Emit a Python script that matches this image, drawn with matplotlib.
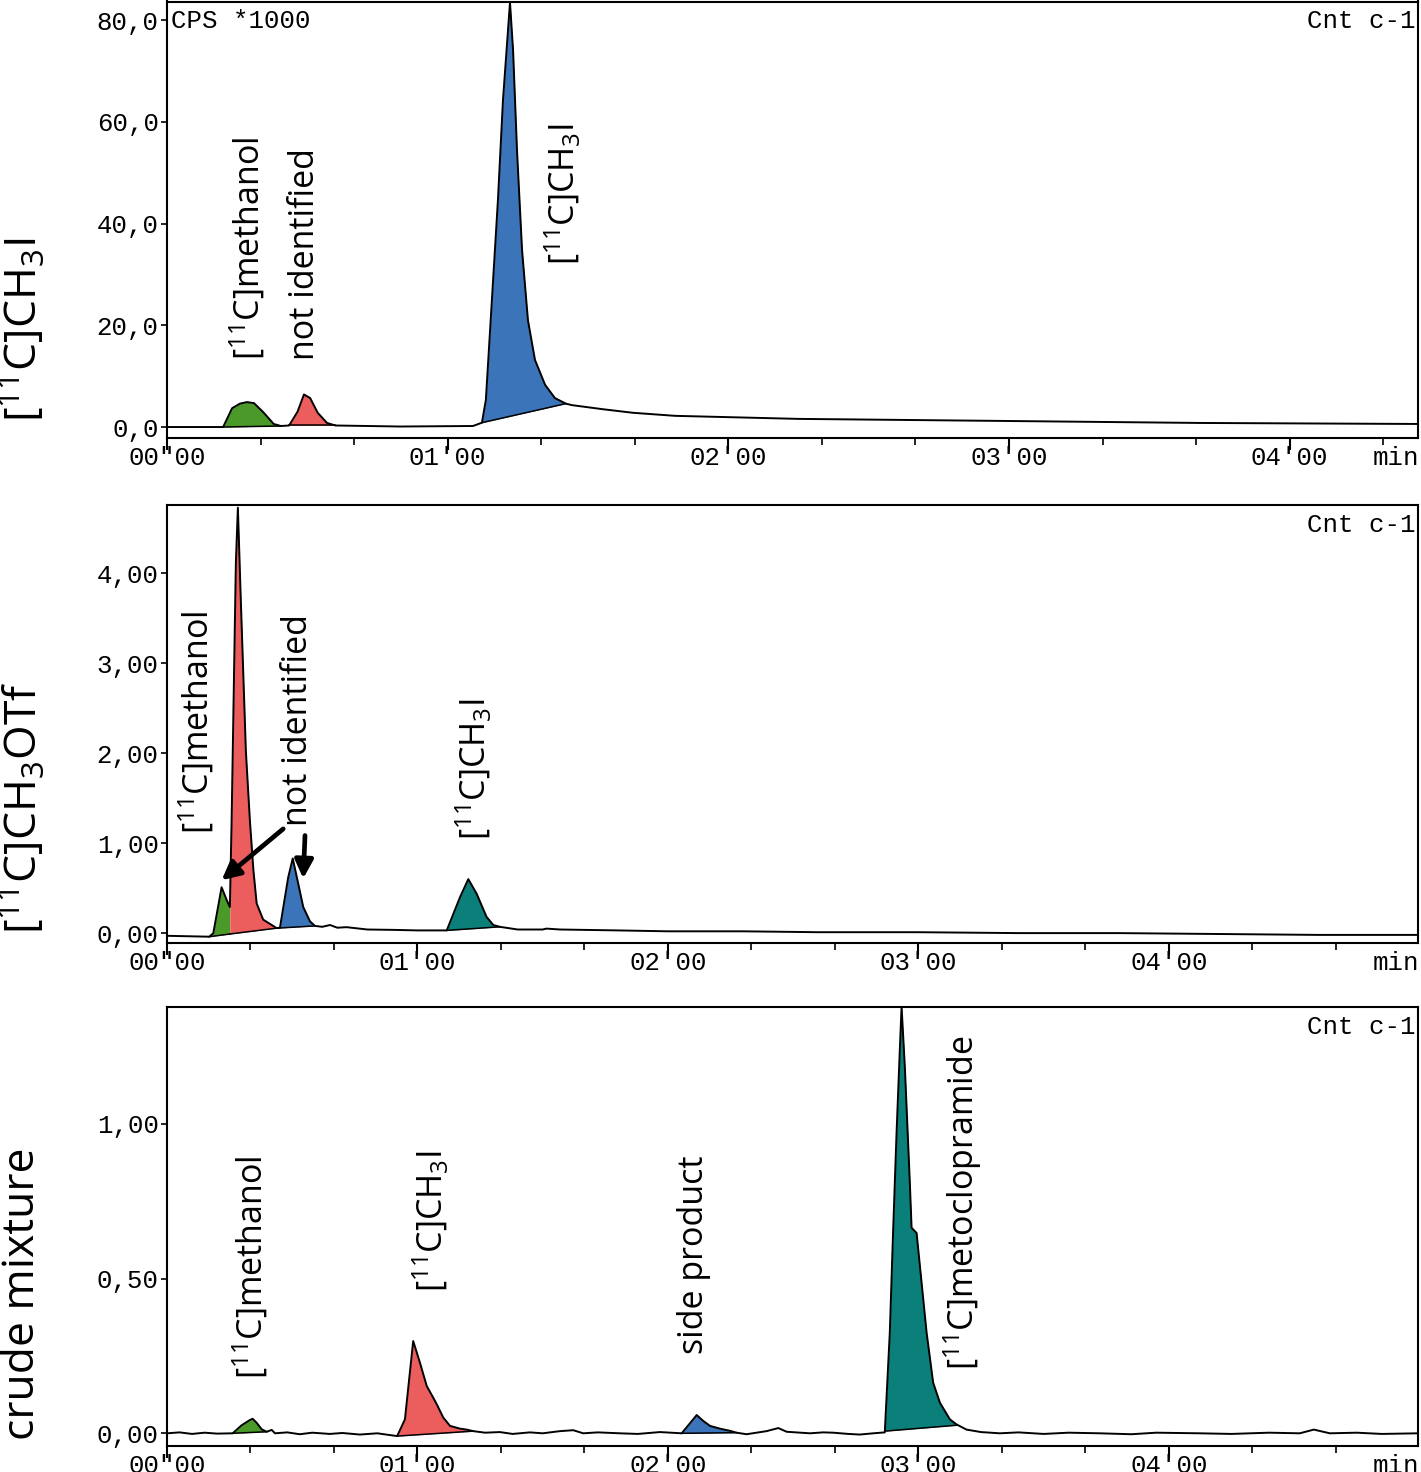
import numpy as np
import matplotlib
matplotlib.use("Agg")
import matplotlib.pyplot as plt
from matplotlib.ticker import FixedLocator, MultipleLocator

plt.rcParams['mathtext.fontset'] = 'custom'
plt.rcParams['mathtext.rm'] = 'Open Sans'
plt.rcParams['mathtext.it'] = 'Open Sans:italic'
plt.rcParams['mathtext.bf'] = 'Open Sans:bold'

# ---------------- data ----------------
# Panel 1: [11C]CH3I  (CPS*1000 vs time in min)
top_t = [0.00, 0.20, 0.232, 0.26, 0.285, 0.31, 0.345, 0.38, 0.406, 0.435,
         0.465, 0.488, 0.51, 0.537, 0.57, 0.60, 0.83, 1.09, 1.122, 1.136,
         1.179, 1.197, 1.222, 1.233, 1.247, 1.265, 1.286, 1.311, 1.347, 1.382,
         1.421, 1.443, 1.553, 1.66, 1.81, 2.25, 2.97, 3.68, 4.457]
top_v = [0.0, 0.0, 3.7, 4.6, 4.9, 4.7, 2.8, 0.6, 0.2, 0.3,
         3.0, 6.4, 5.7, 2.8, 0.8, 0.3, 0.1, 0.2, 0.85, 5.3,
         44.6, 64.3, 83.5, 74.1, 54.4, 34.8, 21.0, 13.2, 8.3, 5.7,
         4.6, 4.3, 3.5, 2.8, 2.2, 1.6, 1.2, 0.8, 0.6]
top_peak_start = [0.20, 0.435, 1.122]
top_peak_end = [0.406, 0.60, 1.421]
top_base_start = [0.0, 0.3, 0.85]
top_base_end = [0.2, 0.3, 4.6]
top_peak_colors = ['#4b9a29', '#ec5d5d', '#3b74b9']

# Panel 2: [11C]CH3OTf
mid_t = [0.0, 0.169, 0.185, 0.218, 0.238, 0.251, 0.258, 0.275, 0.283, 0.295,
         0.315, 0.331, 0.345, 0.358, 0.384, 0.424, 0.438, 0.451, 0.484, 0.502,
         0.524, 0.544, 0.571, 0.591, 0.62, 0.651, 0.68, 0.717, 0.80, 0.903,
         1.0, 1.117, 1.170, 1.203, 1.236, 1.276, 1.303, 1.329, 1.40, 1.50,
         1.515, 1.57, 1.8, 2.0, 2.3, 2.6, 3.0, 3.4, 3.8, 4.2,
         4.6, 4.995]
mid_v = [-0.03, -0.04, 0.0, 0.51, 0.37, 0.29, 1.25, 4.12, 4.73, 3.68,
         2.02, 1.25, 0.70, 0.33, 0.15, 0.08, 0.055, 0.06, 0.62, 0.83,
         0.55, 0.29, 0.13, 0.08, 0.07, 0.09, 0.06, 0.066, 0.04, 0.036,
         0.03, 0.03, 0.40, 0.60, 0.44, 0.18, 0.09, 0.07, 0.04, 0.04,
         0.05, 0.04, 0.03, 0.02, 0.02, 0.01, 0.01, 0.0, 0.0, -0.01,
         -0.02, -0.02]
mid_peak_start = [0.169, 0.251, 0.438, 1.117]
mid_peak_end = [0.251, 0.438, 0.591, 1.329]
mid_base_start = [-0.04, -0.01, 0.055, 0.03]
mid_base_end = [-0.01, 0.055, 0.08, 0.07]
mid_peak_colors = ['#4b9a29', '#ec5d5d', '#3b74b9', '#0b7f7a']

# Panel 3: crude mixture
bot_t = [0.0, 0.05, 0.10, 0.15, 0.20, 0.262, 0.298, 0.331, 0.342, 0.358,
         0.378, 0.398, 0.418, 0.431, 0.48, 0.53, 0.58, 0.65, 0.70, 0.77,
         0.84, 0.919, 0.950, 0.983, 1.010, 1.037, 1.063, 1.077, 1.103, 1.130,
         1.170, 1.196, 1.223, 1.27, 1.329, 1.38, 1.449, 1.50, 1.569, 1.622,
         1.662, 1.72, 1.808, 1.88, 1.968, 2.055, 2.115, 2.141, 2.168, 2.208,
         2.248, 2.274, 2.314, 2.394, 2.441, 2.474, 2.567, 2.62, 2.660, 2.72,
         2.766, 2.82, 2.866, 2.886, 2.899, 2.913, 2.926, 2.933, 2.946, 2.966,
         2.973, 2.993, 3.013, 3.033, 3.059, 3.086, 3.126, 3.152, 3.192, 3.25,
         3.325, 3.40, 3.50, 3.60, 3.725, 3.85, 3.95, 4.124, 4.25, 4.40,
         4.523, 4.579, 4.643, 4.75, 4.85, 4.994]
bot_v = [0.0, 0.003, -0.002, 0.002, -0.001, 0.0, 0.026, 0.043, 0.047, 0.034,
         0.013, 0.005, 0.011, 0.0, 0.003, -0.003, 0.002, -0.002, 0.001, -0.004,
         0.0, -0.009, 0.045, 0.298, 0.228, 0.153, 0.115, 0.094, 0.051, 0.024,
         0.015, 0.012, 0.007, 0.002, 0.004, -0.002, 0.003, 0.0, 0.007, 0.01,
         0.0, 0.003, 0.0, -0.002, 0.004, 0.0, 0.059, 0.04, 0.024, 0.015,
         0.008, 0.002, -0.003, 0.007, 0.017, 0.005, 0.0, 0.003, 0.002, -0.002,
         -0.004, 0.0, 0.003, 0.325, 0.647, 0.97, 1.239, 1.378, 1.185, 0.809,
         0.664, 0.647, 0.486, 0.325, 0.164, 0.099, 0.045, 0.029, 0.012, 0.004,
         0.0, 0.003, -0.002, 0.002, 0.0, -0.003, 0.002, 0.0, -0.002, 0.002,
         0.0, 0.012, 0.0, 0.002, -0.002, 0.0]
bot_peak_start = [0.262, 0.919, 2.055, 2.866]
bot_peak_end = [0.398, 1.223, 2.274, 3.152]
bot_base_start = [0.0, -0.009, 0.0, 0.007]
bot_base_end = [0.005, 0.007, 0.002, 0.026]
bot_peak_colors = ['#4b9a29', '#ec5d5d', '#3b74b9', '#0b7f7a']

# tick labels
x_ticks = [0, 1, 2, 3, 4]
x_ticklabels = ['00"00', "01'00", "02'00", "03'00", "04'00"]
top_yticks = [0, 20, 40, 60, 80]
top_yticklabels = ['0,0', '20,0', '40,0', '60,0', '80,0']
mid_yticks = [0, 1, 2, 3, 4]
mid_yticklabels = ['0,00', '1,00', '2,00', '3,00', '4,00']
bot_yticks = [0, 0.5, 1.0]
bot_yticklabels = ['0,00', '0,50', '1,00']

# panel side labels
panel_titles = [r'[$^{11}$C]CH$_3$I', r'[$^{11}$C]CH$_3$OTf', 'crude mixture']

# peak labels: (text, t, v)
top_labels = [(r'[$^{11}$C]methanol', 0.289, 13.2),
              ('not identified', 0.492, 13.2),
              (r'[$^{11}$C]CH$_3$I', 1.411, 31.8)]
mid_labels = [(r'[$^{11}$C]methanol', 0.12, 1.107),
              ('not identified', 0.523, 1.196),
              (r'[$^{11}$C]CH$_3$I', 1.226, 1.03)]
bot_labels = [(r'[$^{11}$C]methanol', 0.335, 0.174),
              (r'[$^{11}$C]CH$_3$I', 1.054, 0.458),
              ('side product', 2.104, 0.255),
              (r'[$^{11}$C]metoclopramide', 3.178, 0.206)]
# arrows in panel 2: (start t, start v, end t, end v)
mid_arrows = [(0.464, 1.159, 0.218, 0.588),
              (0.551, 1.085, 0.544, 0.607)]

# ---------------- figure ----------------
W, H = 1421, 1472
fig = plt.figure(figsize=(W / 100, H / 100), dpi=100)

mono = 'Liberation Mono'
sans = 'Open Sans'
MONO_SIZE = 18.5


def px_box(l, t, r, b):
    return [l / W, 1 - b / H, (r - l) / W, (b - t) / H]


panels = [
    dict(box=px_box(167, 1.5, 1418, 438), t=top_t, v=top_v, xlim=(0, 4.457), ylim=(-2.16, 83.7),
         ps=top_peak_start, pe=top_peak_end, bs=top_base_start, be=top_base_end, pc=top_peak_colors,
         yt=top_yticks, ytl=top_yticklabels, labels=top_labels, cps=True),
    dict(box=px_box(167, 505, 1418, 943), t=mid_t, v=mid_v, xlim=(0, 4.995), ylim=(-0.11, 4.76),
         ps=mid_peak_start, pe=mid_peak_end, bs=mid_base_start, be=mid_base_end, pc=mid_peak_colors,
         yt=mid_yticks, ytl=mid_yticklabels, labels=mid_labels, cps=False),
    dict(box=px_box(167, 1007, 1418, 1446), t=bot_t, v=bot_v, xlim=(0, 4.995), ylim=(-0.041, 1.377),
         ps=bot_peak_start, pe=bot_peak_end, bs=bot_base_start, be=bot_base_end, pc=bot_peak_colors,
         yt=bot_yticks, ytl=bot_yticklabels, labels=bot_labels, cps=False),
]

axes = []
for p in panels:
    ax = fig.add_axes(p['box'])
    axes.append(ax)
    t = np.array(p['t'])
    v = np.array(p['v'])
    for s, e, b0, b1, c in zip(p['ps'], p['pe'], p['bs'], p['be'], p['pc']):
        m = (t >= s - 1e-9) & (t <= e + 1e-9)
        tt = t[m]
        base = b0 + (b1 - b0) * (tt - s) / (e - s)
        ax.fill_between(tt, base, v[m], color=c, lw=0, zorder=2)
        ax.plot([s, e], [b0, b1], color='black', lw=1.1, zorder=3)
    ax.plot(t, v, color='black', lw=1.4, zorder=4, solid_joinstyle='round')
    ax.set_xlim(*p['xlim'])
    ax.set_ylim(*p['ylim'])
    for sp in ax.spines.values():
        sp.set_linewidth(1.5)
    ax.xaxis.set_major_locator(FixedLocator(x_ticks))
    ax.set_xticklabels(x_ticklabels, fontfamily=mono, fontsize=MONO_SIZE)
    ax.xaxis.set_minor_locator(MultipleLocator(1 / 3))
    ax.tick_params(axis='x', which='major', length=8.5, width=1.5, pad=-2.5, direction='out')
    ax.tick_params(axis='x', which='minor', length=5, width=1.2, direction='out')
    ax.yaxis.set_major_locator(FixedLocator(p['yt']))
    ax.set_yticklabels(p['ytl'], fontfamily=mono, fontsize=MONO_SIZE)
    ax.tick_params(axis='y', which='major', length=4.5, width=1.2, pad=1.5, direction='out')
    ax.annotate('min', xy=(1, 0), xycoords='axes fraction', xytext=(1, -6.0),
                textcoords='offset points', ha='right', va='top', fontfamily=mono, fontsize=MONO_SIZE)
    ax.annotate('Cnt c-1', xy=(1, 1), xycoords='axes fraction', xytext=(-1.5, -5.5),
                textcoords='offset points', ha='right', va='top', fontfamily=mono, fontsize=MONO_SIZE)
    if p['cps']:
        ax.annotate('CPS *1000', xy=(0, 1), xycoords='axes fraction', xytext=(3, -5.5),
                    textcoords='offset points', ha='left', va='top', fontfamily=mono, fontsize=MONO_SIZE)
    for txt, lt, lv in p['labels']:
        ax.text(lt, lv, txt, rotation=90, ha='center', va='bottom', fontfamily=sans,
                fontsize=24.5, zorder=5)

for s_t, s_v, e_t, e_v in mid_arrows:
    axes[1].annotate('', xy=(e_t, e_v), xytext=(s_t, s_v),
                     arrowprops=dict(arrowstyle='-|>,head_length=1.1,head_width=0.55',
                                     color='black', lw=3.4, shrinkA=0, shrinkB=0),
                     zorder=6)

title_y = [330, 808, 1294]
for txt, yy in zip(panel_titles, title_y):
    fig.text(23 / W, 1 - yy / H, txt, rotation=90, ha='center', va='center',
             fontfamily=sans, fontsize=32)

fig.savefig('out.png', dpi=100)
